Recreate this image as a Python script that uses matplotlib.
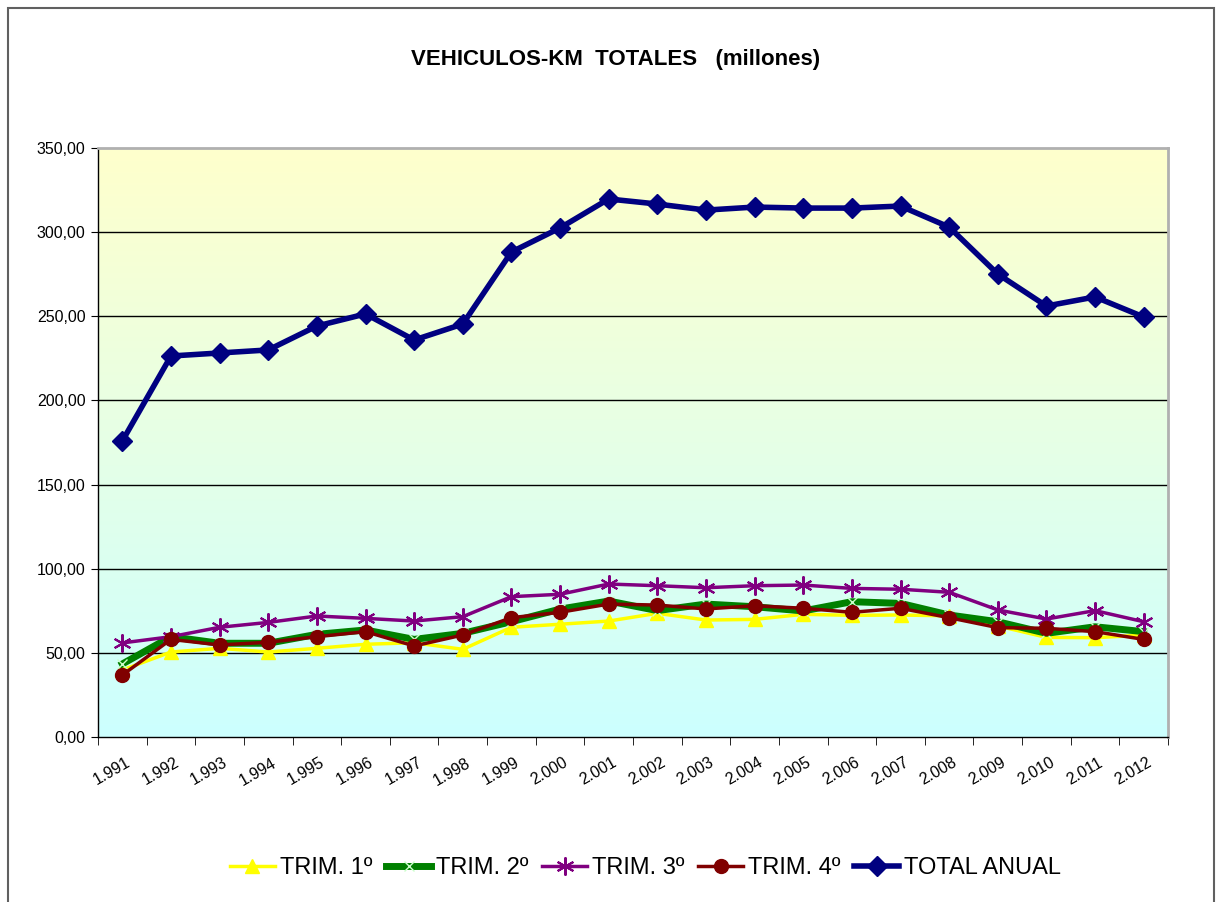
import matplotlib
matplotlib.use("Agg")
import matplotlib.pyplot as plt
import matplotlib.transforms as mtransforms
import numpy as np
from matplotlib.colors import LinearSegmentedColormap
from matplotlib.patches import Rectangle

years = ["1.991", "1.992", "1.993", "1.994", "1.995", "1.996", "1.997", "1.998",
         "1.999", "2.000", "2.001", "2.002", "2.003", "2.004", "2.005", "2.006",
         "2.007", "2.008", "2.009", "2.010", "2.011", "2.012"]

trim1 = [39.8, 50.5, 52.7, 50.5, 52.7, 55.1, 56.0, 52.1, 65.2, 67.0, 68.9, 73.5,
         69.5, 69.9, 72.9, 72.3, 72.5, 72.0, 66.0, 59.2, 59.0, 60.6]
trim2 = [43.4, 59.6, 55.7, 55.7, 61.0, 63.6, 58.0, 61.6, 68.5, 76.0, 80.8, 75.1,
         79.0, 77.4, 74.9, 80.4, 79.4, 72.5, 68.5, 61.6, 65.5, 62.6]
trim3 = [55.9, 59.6, 65.2, 68.1, 71.9, 70.5, 68.9, 71.5, 83.4, 84.8, 90.9, 89.9,
         88.7, 89.9, 90.3, 88.3, 87.8, 86.0, 75.5, 70.1, 75.1, 68.5]
trim4 = [36.8, 58.0, 54.7, 56.3, 59.6, 62.6, 54.1, 60.6, 70.9, 74.1, 79.0, 78.4,
         76.1, 78.0, 76.5, 74.1, 76.5, 70.9, 65.0, 64.6, 62.6, 58.0]
total = [175.9, 226.4, 228.2, 230.0, 244.2, 251.4, 235.9, 245.4, 288.2, 302.5,
         319.7, 316.7, 313.1, 314.9, 314.3, 314.3, 315.5, 303.0, 275.1, 256.1,
         261.5, 249.6]

yticks = [0, 50, 100, 150, 200, 250, 300, 350]
ytick_labels = ["0,00", "50,00", "100,00", "150,00", "200,00", "250,00", "300,00", "350,00"]

plt.rcParams['font.family'] = ['Liberation Sans', 'DejaVu Sans']

fig = plt.figure(figsize=(12.18, 9.02), dpi=100)
ax = fig.add_axes([98/1218, 1-737/902, (1168-98)/1218, (737-148)/902])

# figure border
fig.patches.append(Rectangle((8/1218, -0.01), 1206/1218, 1.01-8/902, transform=fig.transFigure,
                             fill=False, edgecolor='#606060', linewidth=1.5))

x = np.arange(len(years))
ax.set_xlim(-0.5, len(years) - 0.5)
ax.set_ylim(0, 350)

cmap = LinearSegmentedColormap.from_list('bg', ['#CCFFFF', '#E6FFE6', '#FFFFCC'])
grad = np.linspace(0, 1, 256).reshape(-1, 1)
ax.imshow(grad, aspect='auto', cmap=cmap, origin='lower',
          extent=[-0.5, len(years) - 0.5, 0, 350], zorder=0)

for v in yticks[1:-1]:
    ax.axhline(v, color='black', linewidth=1.0, zorder=1)

l1, = ax.plot(x, trim1, color='#FFFF00', linewidth=2.5, marker='^', markersize=10,
              markerfacecolor='#FFFF00', markeredgecolor='#FFFF00', zorder=3, label='TRIM. 1º')
l2, = ax.plot(x, trim2, color='#008000', linewidth=5, marker='x', markersize=7,
              markeredgecolor='#CCFFCC', markeredgewidth=1, zorder=4, label='TRIM. 2º')
l3, = ax.plot(x, trim3, color='#800080', linewidth=2.5, marker=(6, 2, 0), markersize=13,
              markeredgecolor='#800080', markeredgewidth=1.5, zorder=5, label='TRIM. 3º')
l4, = ax.plot(x, trim4, color='#800000', linewidth=2.5, marker='o', markersize=10,
              markerfacecolor='#800000', markeredgecolor='#800000', zorder=6, label='TRIM. 4º')
l5, = ax.plot(x, total, color='#000080', linewidth=4, marker='D', markersize=10,
              markerfacecolor='#000080', markeredgecolor='#000080', zorder=7, label='TOTAL ANUAL')

ax.set_yticks(yticks)
ax.set_yticklabels(ytick_labels, fontsize=11.5)
ax.set_xticks(x)
ax.set_xticklabels(years, rotation=30, ha='right', va='top', rotation_mode='anchor',
                   fontsize=11.5)
ax.set_xticks(np.arange(-0.5, len(years)), minor=True)
ax.tick_params(axis='x', which='major', length=0, pad=13)
ax.tick_params(axis='x', which='minor', length=6, direction='out', color='black')
ax.tick_params(axis='y', length=5, direction='out', color='black', pad=4)
offset = mtransforms.ScaledTranslation(3/100, 0, fig.dpi_scale_trans)
for lab in ax.get_xticklabels():
    lab.set_transform(lab.get_transform() + offset)

for s in ['top', 'right']:
    ax.spines[s].set_color('#B0B0B0')
    ax.spines[s].set_linewidth(2)
for s in ['left', 'bottom']:
    ax.spines[s].set_color('black')
    ax.spines[s].set_linewidth(1.0)

fig.text(0.505, 1-60/902, 'VEHICULOS-KM  TOTALES   (millones)', ha='center', va='center',
         fontsize=16, fontweight='bold')

fig.legend(handles=[l1, l2, l3, l4, l5], loc='center', bbox_to_anchor=(0.53, 1-868/902),
           ncol=5, frameon=False, fontsize=17, handlelength=1.9, columnspacing=0.6,
           handletextpad=0.2)

fig.savefig('out.png', dpi=100)
